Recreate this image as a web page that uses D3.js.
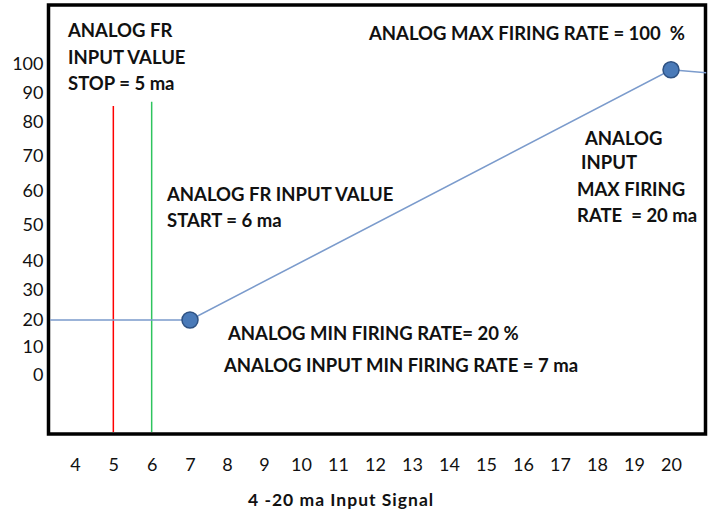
<!DOCTYPE html>
<html>
<head>
<meta charset="utf-8">
<script src="https://cdn.jsdelivr.net/npm/d3@7"></script>
<style>
  body { margin: 0; background: #fff; }
  svg text { font-family: Lato, "Open Sans", sans-serif; fill: #111; }
  .note { font-weight: bold; font-size: 18.5px; }
  .tick text { font-size: 18px; }
</style>
</head>
<body>
<div id="chart"></div>
<script>
// chart values
var xTicks = [4, 5, 6, 7, 8, 9, 10, 11, 12, 13, 14, 15, 16, 17, 18, 19, 20];
var yTicks = [0, 10, 20, 30, 40, 50, 60, 70, 80, 90, 100];

// firing rate curve (ma, %)
var curveX = [3.35, 7, 20, 20.95];
var curveY = [20, 20, 98, 97];

// the two marked points
var pointX = [7, 20];
var pointY = [20, 98];

// stop / start reference lines
var refX = [5, 6];
var refTop = [85.5, 87];
var refColor = ["#ff0000", "#2ec45e"];

var notes = [
  { t: "ANALOG FR", x: 68, y: 37 },
  { t: "INPUT VALUE", x: 68, y: 64 },
  { t: "STOP = 5 ma", x: 68, y: 90 },
  { t: "ANALOG MAX FIRING RATE = 100  %", x: 369, y: 40 },
  { t: "ANALOG", x: 585, y: 145 },
  { t: "INPUT", x: 581, y: 169 },
  { t: "MAX FIRING", x: 577, y: 196 },
  { t: "RATE  = 20 ma", x: 577, y: 222 },
  { t: "ANALOG FR INPUT VALUE", x: 167, y: 201 },
  { t: "START = 6 ma", x: 167, y: 227 },
  { t: "ANALOG MIN FIRING RATE= 20 %", x: 228, y: 340 },
  { t: "ANALOG INPUT MIN FIRING RATE = 7 ma", x: 224, y: 372 }
];

var svgWidth = 712;
var svgHeight = 515;

var frame = { left: 48.5, top: 5, right: 705.5, bottom: 434 };

var svg = d3.select("#chart")
  .append("svg")
  .attr("width", svgWidth)
  .attr("height", svgHeight);

// the drawing is hand made, so the scales are piecewise
var x = d3.scaleLinear()
  .domain([4, 7, 20])
  .range([75, 190, 671]);

var y = d3.scaleLinear()
  .domain(yTicks)
  .range([375, 347, 320, 290, 261, 225, 191, 156, 122, 93, 64]);

// frame
svg.append("rect")
  .attr("x", frame.left)
  .attr("y", frame.top)
  .attr("width", frame.right - frame.left)
  .attr("height", frame.bottom - frame.top)
  .attr("fill", "none")
  .attr("stroke", "#000")
  .attr("stroke-width", 3.5);

// axes (labels only)
var yAxis = svg.append("g")
  .attr("transform", `translate(${frame.left - 2}, 0)`)
  .call(d3.axisLeft(y).tickValues(yTicks).tickSize(0).tickPadding(3).tickFormat(d3.format("d")));
yAxis.select(".domain").remove();

var xAxis = svg.append("g")
  .attr("transform", `translate(0, ${frame.bottom})`)
  .call(d3.axisBottom(x).tickValues(xTicks).tickSize(0).tickPadding(24).tickFormat(d3.format("d")));
xAxis.select(".domain").remove();

svg.selectAll(".tick text").attr("font-family", null).attr("font-size", null);

svg.append("text")
  .attr("class", "note")
  .attr("x", 248)
  .attr("y", 506)
  .style("font-size", "17.5px")
  .style("letter-spacing", "1px")
  .text("4 -20 ma Input Signal");

// reference lines
svg.selectAll(".ref")
  .data(refX)
  .enter()
  .append("line")
  .attr("class", "ref")
  .attr("x1", d => x(d))
  .attr("x2", d => x(d))
  .attr("y1", (d, i) => y(refTop[i]))
  .attr("y2", frame.bottom - 2)
  .attr("stroke", (d, i) => refColor[i])
  .attr("stroke-width", 1.5);

// curve
var line = d3.line()
  .x(d => x(d[0]))
  .y(d => y(d[1]));

svg.append("path")
  .datum(curveX.map((d, i) => [d, curveY[i]]))
  .attr("d", line)
  .attr("fill", "none")
  .attr("stroke", "#7b9bcc")
  .attr("stroke-width", 1.6);

svg.selectAll(".pt")
  .data(pointX)
  .enter()
  .append("circle")
  .attr("class", "pt")
  .attr("cx", d => x(d))
  .attr("cy", (d, i) => y(pointY[i]))
  .attr("r", 8)
  .attr("fill", "#4a7ab8")
  .attr("stroke", "#2f5283")
  .attr("stroke-width", 1.5);

// annotations
svg.selectAll(".note-t")
  .data(notes)
  .enter()
  .append("text")
  .attr("class", "note")
  .attr("x", d => d.x)
  .attr("y", d => d.y)
  .style("white-space", "pre")
  .text(d => d.t);
</script>
</body>
</html>
